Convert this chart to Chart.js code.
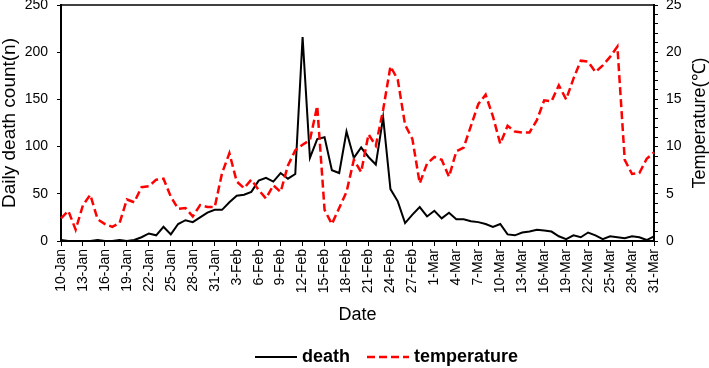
<!DOCTYPE html>
<html>
<head>
<meta charset="utf-8">
<script src="https://cdn.jsdelivr.net/npm/chart.js@4.4.1/dist/chart.umd.min.js"></script>
<style>
html,body{margin:0;padding:0;background:#fff;}
#wrap{width:709px;height:368px;}
</style>
</head>
<body>
<div id="wrap"><canvas id="c" width="709" height="368"></canvas></div>
<script>
const categories = [
  '10-Jan','11-Jan','12-Jan','13-Jan','14-Jan','15-Jan','16-Jan','17-Jan','18-Jan','19-Jan','20-Jan',
  '21-Jan','22-Jan','23-Jan','24-Jan','25-Jan','26-Jan','27-Jan','28-Jan','29-Jan','30-Jan','31-Jan',
  '1-Feb','2-Feb','3-Feb','4-Feb','5-Feb','6-Feb','7-Feb','8-Feb','9-Feb','10-Feb','11-Feb','12-Feb',
  '13-Feb','14-Feb','15-Feb','16-Feb','17-Feb','18-Feb','19-Feb','20-Feb','21-Feb','22-Feb','23-Feb',
  '24-Feb','25-Feb','26-Feb','27-Feb','28-Feb','29-Feb',
  '1-Mar','2-Mar','3-Mar','4-Mar','5-Mar','6-Mar','7-Mar','8-Mar','9-Mar','10-Mar','11-Mar','12-Mar',
  '13-Mar','14-Mar','15-Mar','16-Mar','17-Mar','18-Mar','19-Mar','20-Mar','21-Mar','22-Mar','23-Mar',
  '24-Mar','25-Mar','26-Mar','27-Mar','28-Mar','29-Mar','30-Mar','31-Mar'
];

const deathValues = [
  1, 0, 0, 0, 0, 1, 0, 0, 1, 0, 1,
  4, 8, 6, 15, 7, 18, 22, 20, 25, 30, 33,
  33, 41, 48, 49, 52, 64, 67, 63, 72, 66, 71, 216,
  88, 108, 110, 75, 72, 116, 88, 99, 89, 81, 131,
  55, 42, 19, 28, 36, 26,
  32, 24, 30, 23, 23, 21, 20, 18, 15, 18, 7, 6,
  9, 10, 12, 11, 10, 5, 2, 6, 4, 9, 6,
  2, 5, 4, 3, 5, 4, 1, 5
];

const temperatureValues = [
  2.4, 3.2, 1.2, 3.8, 4.9, 2.3, 1.8, 1.5, 1.9, 4.4, 4.1,
  5.7, 5.8, 6.5, 6.6, 4.7, 3.4, 3.5, 2.6, 3.8, 3.6, 3.6,
  7.2, 9.3, 6.3, 5.6, 6.5, 5.4, 4.5, 5.9, 5.2, 8.0, 9.6, 10.2,
  10.7, 14.3, 3.3, 1.8, 3.5, 5.2, 8.6, 7.3, 11.3, 10.1, 13.9,
  18.5, 17.1, 12.3, 10.8, 6.1, 8.2,
  8.9, 8.6, 6.8, 9.5, 9.9, 12.2, 14.5, 15.5, 13.2, 10.3, 12.2, 11.6,
  11.5, 11.5, 12.8, 14.9, 14.8, 16.5, 15.0, 17.2, 19.1, 19.0, 17.9,
  18.6, 19.5, 20.6, 8.6, 7.1, 7.2, 8.7, 9.4
];

const deathTicks = [0, 50, 100, 150, 200, 250];
const temperatureTicks = [0, 5, 10, 15, 20, 25];
const seriesNames = ['death', 'temperature'];
const axisTitles = { x: 'Date', y: 'Daily death count(n)', y2: 'Temperature(\u2103)' };

const FONT = '"Liberation Sans", Arial, sans-serif';
Chart.defaults.font.family = FONT;
Chart.defaults.color = '#000';

const extras = {
  id: 'extras',
  afterDraw(chart) {
    const ctx = chart.ctx;
    const a = chart.chartArea;
    ctx.save();
    // top frame line
    ctx.strokeStyle = '#000';
    ctx.lineWidth = 1.5;
    ctx.beginPath();
    ctx.moveTo(a.left, a.top);
    ctx.lineTo(a.right, a.top);
    ctx.stroke();
    // right axis title (reads bottom to top)
    ctx.save();
    ctx.translate(chart.width - 9, (a.top + a.bottom) / 2);
    ctx.rotate(-Math.PI / 2);
    ctx.font = '18px ' + FONT;
    ctx.fillStyle = '#000';
    ctx.textAlign = 'center';
    ctx.textBaseline = 'middle';
    ctx.fillText(axisTitles.y2, 0, 0);
    ctx.restore();
    // legend
    ctx.font = 'bold 18px ' + FONT;
    ctx.textBaseline = 'middle';
    ctx.textAlign = 'left';
    let x = 255;
    const y = 357;
    chart.data.datasets.forEach(d => {
      ctx.strokeStyle = d.borderColor;
      ctx.lineWidth = d.borderWidth;
      ctx.setLineDash(d.borderDash || []);
      ctx.beginPath();
      ctx.moveTo(x, y);
      ctx.lineTo(x + 42, y);
      ctx.stroke();
      ctx.setLineDash([]);
      ctx.fillStyle = '#000';
      ctx.fillText(d.label, x + 47, y);
      x += 47 + ctx.measureText(d.label).width + 17;
    });
    ctx.restore();
  }
};

new Chart(document.getElementById('c'), {
  type: 'line',
  data: {
    labels: categories,
    datasets: [
      { label: seriesNames[0], data: deathValues, borderColor: '#000000', borderWidth: 2,
        pointRadius: 0, tension: 0, fill: false, yAxisID: 'y', order: 1 },
      { label: seriesNames[1], data: temperatureValues, borderColor: '#FF0000', borderWidth: 2.5,
        borderDash: [8, 4], pointRadius: 0, tension: 0, fill: false, yAxisID: 'y2', order: 0 }
    ]
  },
  options: {
    responsive: false,
    animation: false,
    layout: { padding: { top: 5, left: 0, right: 0, bottom: 0 } },
    plugins: { legend: { display: false }, tooltip: { enabled: false } },
    scales: {
      x: {
        type: 'category',
        offset: false,
        grid: {
          display: true, drawOnChartArea: false, drawTicks: true, tickLength: 5, lineWidth: 1,
          color: c => (c.index % 3 === 0 ? '#000' : 'rgba(0,0,0,0)')
        },
        border: { display: true, color: '#000', width: 2 },
        ticks: {
          autoSkip: false, maxRotation: 90, minRotation: 90, padding: 3, color: '#000',
          font: { family: FONT, size: 14 },
          callback: (v, i) => (i % 3 === 0 ? categories[i] : '')
        },
        title: { display: true, text: axisTitles.x, color: '#000',
          font: { family: FONT, size: 18, lineHeight: 1.2 }, padding: { top: 4, bottom: 42 } },
        afterFit: s => { s.height = 127; }
      },
      y: {
        position: 'left',
        min: deathTicks[0], max: deathTicks[deathTicks.length - 1],
        afterBuildTicks: s => { s.ticks = deathTicks.map(v => ({ value: v })); },
        grid: { drawOnChartArea: false, tickLength: 4, color: '#000' },
        border: { color: '#000', width: 2 },
        ticks: { padding: 9, color: '#000', font: { family: FONT, size: 14 } },
        title: { display: true, text: axisTitles.y, color: '#000',
          font: { family: FONT, size: 19, lineHeight: 1.0 }, padding: { top: 0, bottom: 0 } },
        afterFit: s => { s.width = 61; s.paddingTop = 0; s.paddingBottom = 0; }
      },
      y2: {
        position: 'right',
        min: temperatureTicks[0], max: temperatureTicks[temperatureTicks.length - 1],
        grid: { drawOnChartArea: false, tickLength: 4, color: '#000' },
        border: { color: '#000', width: 2 },
        ticks: {
          stepSize: 1, autoSkip: false, padding: 8, color: '#000',
          font: { family: FONT, size: 14 },
          callback: v => (temperatureTicks.includes(v) ? String(v) : '')
        },
        title: { display: false },
        afterFit: s => { s.width = 55; s.paddingTop = 0; s.paddingBottom = 0; }
      }
    }
  },
  plugins: [extras]
});
</script>
</body>
</html>
